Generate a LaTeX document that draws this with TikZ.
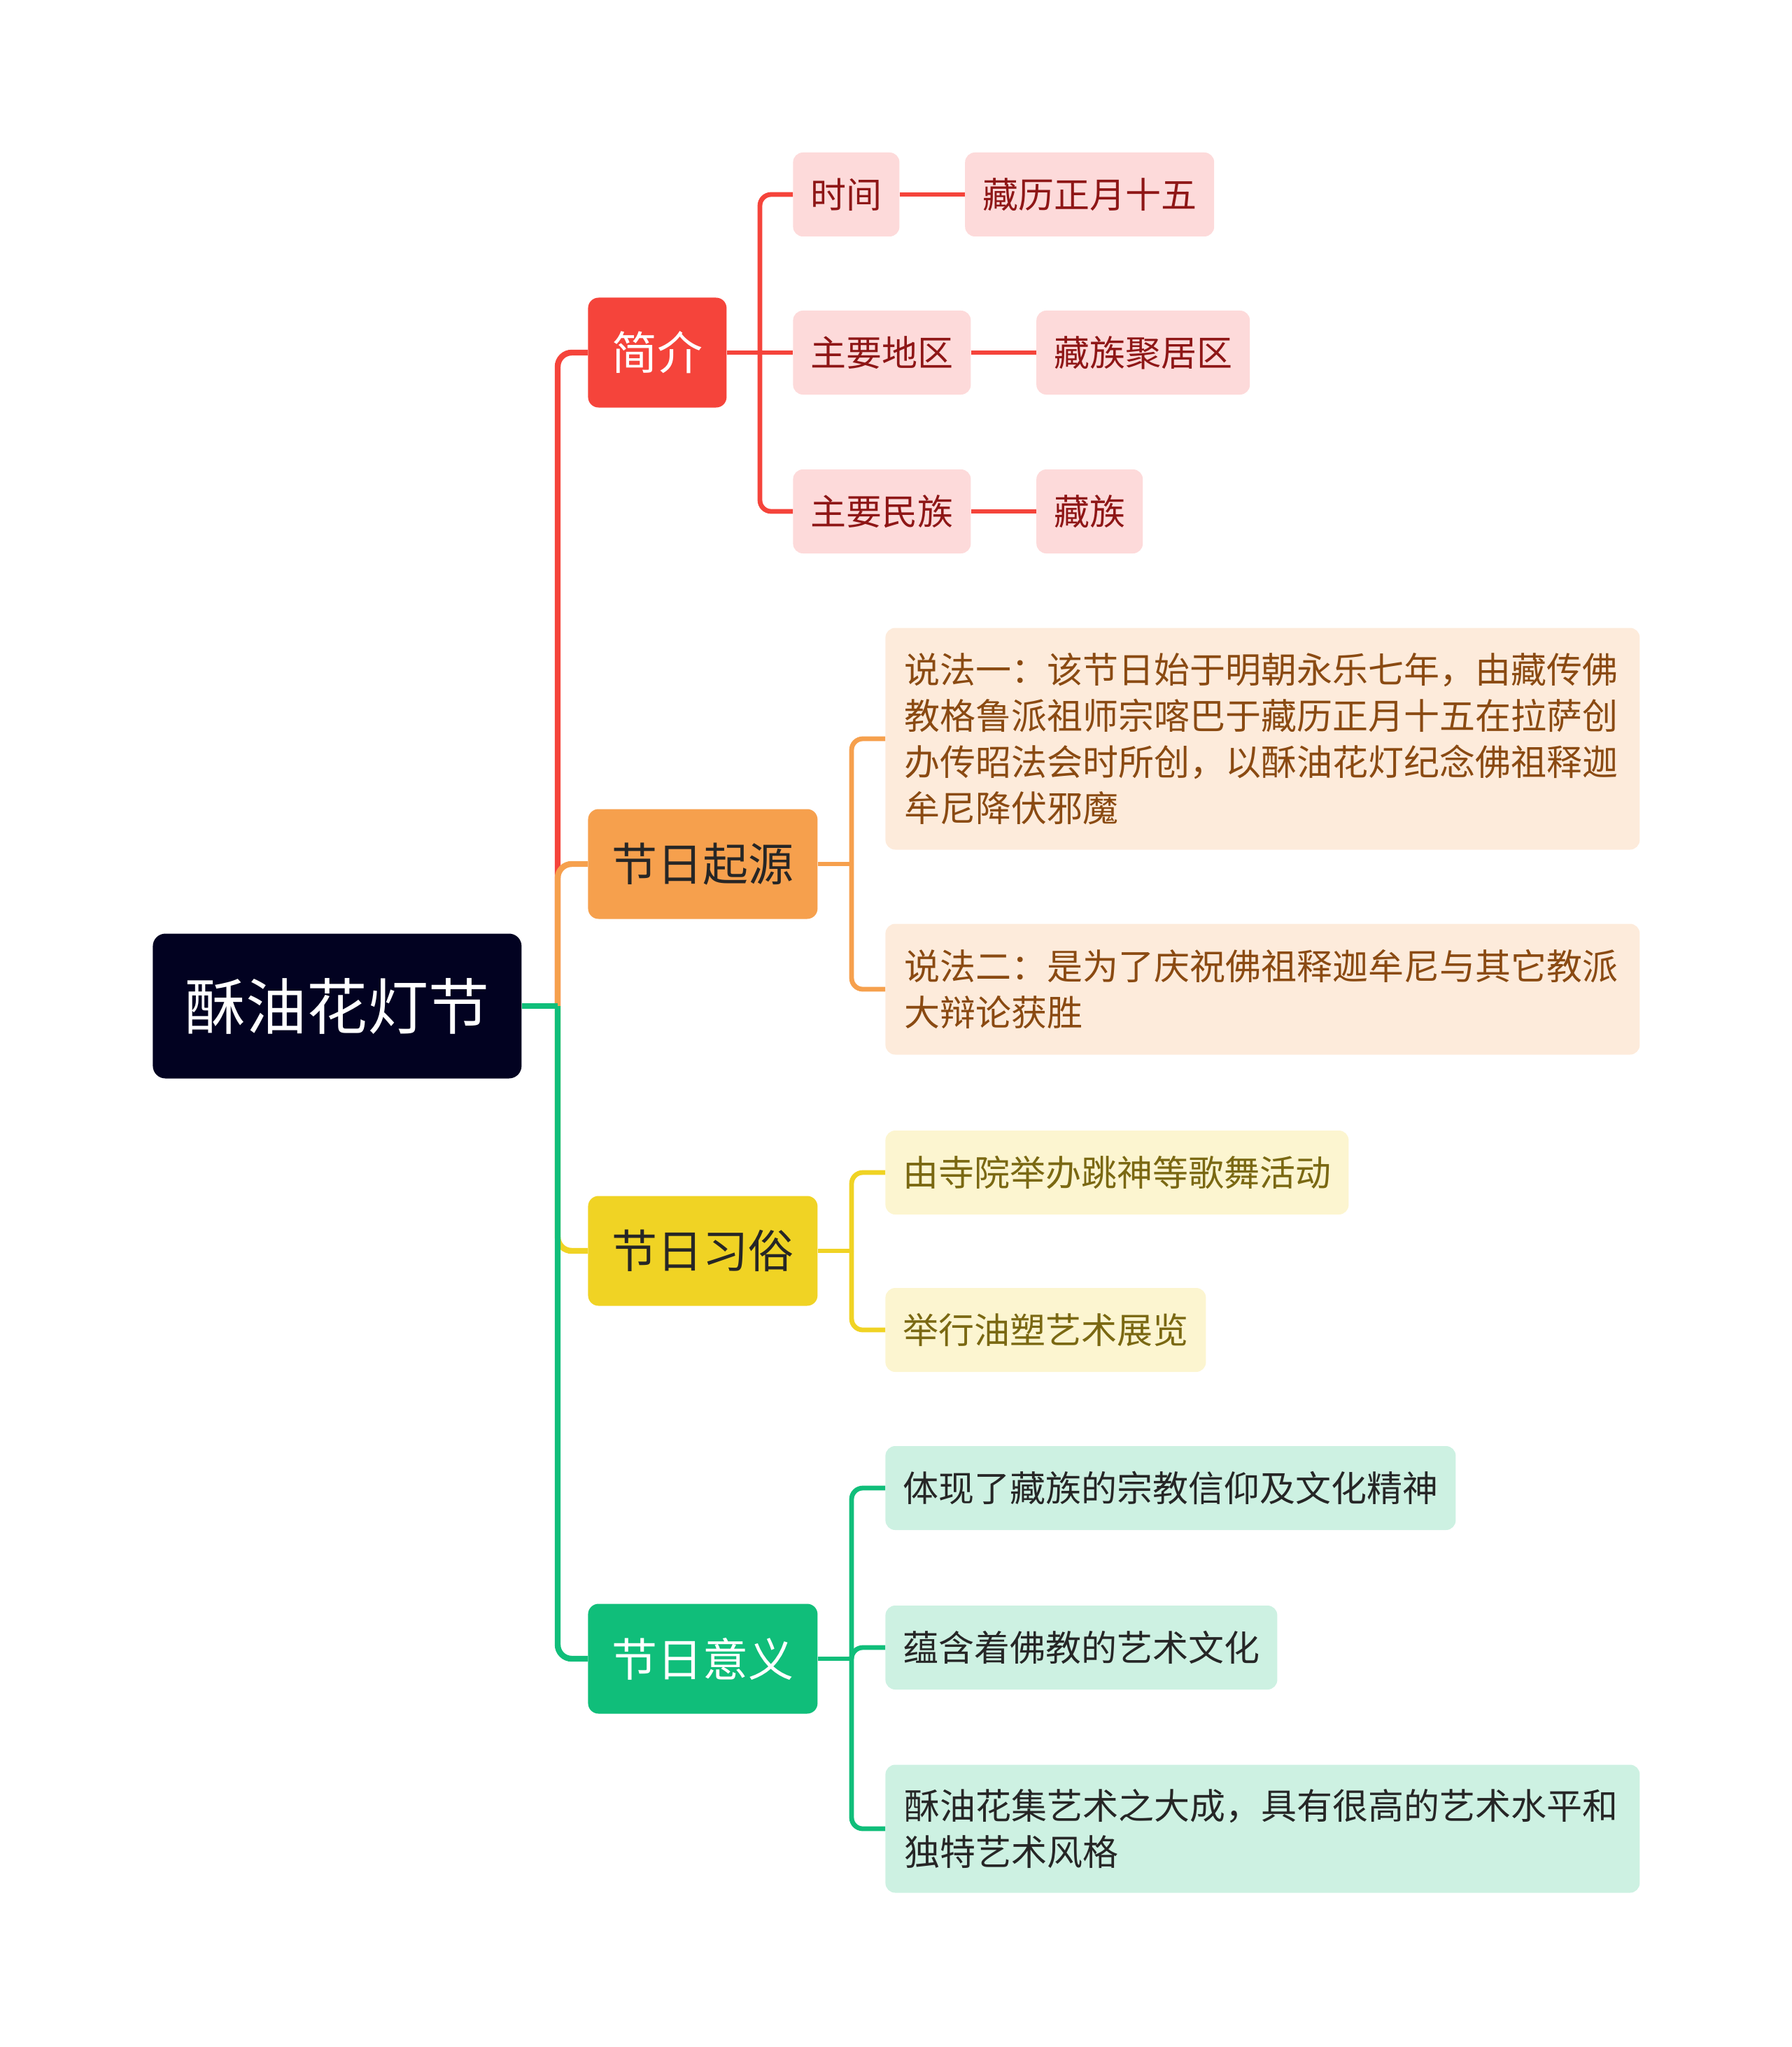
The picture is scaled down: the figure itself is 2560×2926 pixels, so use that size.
\documentclass[tikz,border=0pt]{standalone}
\usepackage{fontspec}
\setmainfont{Noto Sans CJK SC}
\usepackage{tikz}
\usetikzlibrary{positioning}

\definecolor{rootbg}{HTML}{020221}
\definecolor{redmain}{HTML}{F5443B}
\definecolor{redleaf}{HTML}{FDDADA}
\definecolor{redtext}{HTML}{8E1616}
\definecolor{orgmain}{HTML}{F6A04D}
\definecolor{orgleaf}{HTML}{FDEBDB}
\definecolor{orgtext}{HTML}{8A4A12}
\definecolor{yelmain}{HTML}{F0D324}
\definecolor{yelleaf}{HTML}{FCF5D0}
\definecolor{yeltext}{HTML}{7A6812}
\definecolor{grnmain}{HTML}{10BE7A}
\definecolor{grnleaf}{HTML}{CDF1E2}
\definecolor{darktext}{HTML}{262626}

\begin{document}
\begin{tikzpicture}[x=0.5pt, y=-0.5pt,
  rootnode/.style={rectangle, rounded corners=9pt, fill=rootbg, text=white,
                   font=\fontsize{43.5}{52}\selectfont, inner xsep=23pt,
                   minimum height=103.5pt, anchor=west},
  topic/.style={rectangle, rounded corners=7.5pt, font=\fontsize{32.5}{40}\selectfont,
                inner xsep=17pt, minimum height=78.5pt, anchor=west},
  leaf/.style={rectangle, rounded corners=7pt, font=\fontsize{25.5}{33}\selectfont,
               inner xsep=12.5pt, minimum height=60pt, anchor=west, align=left},
  wide/.style={text width=512pt, inner xsep=13.5pt},
  link/.style={line width=4.2pt, rounded corners=10pt},
  sublink/.style={line width=3.4pt, rounded corners=8pt}
]
\useasboundingbox (0,0) rectangle (2560,2926);

% root and main topics
\node[rootnode] (root) at (218,1438) {酥油花灯节};
\node[topic, fill=redmain, text=white]    (intro)   at (840,504)  {简介};
\node[topic, fill=orgmain, text=darktext] (origin)  at (840,1235) {节日起源};
\node[topic, fill=yelmain, text=darktext] (custom)  at (840,1788) {节日习俗};
\node[topic, fill=grnmain, text=white]    (meaning) at (840,2371) {节日意义};

% intro leaves
\node[leaf, fill=redleaf, text=redtext] (time)   at (1133,278) {时间};
\node[leaf, fill=redleaf, text=redtext, right=46.5pt of time]   (timev)   {藏历正月十五};
\node[leaf, fill=redleaf, text=redtext] (region) at (1133,504) {主要地区};
\node[leaf, fill=redleaf, text=redtext, right=46.5pt of region] (regionv) {藏族聚居区};
\node[leaf, fill=redleaf, text=redtext] (people) at (1133,731) {主要民族};
\node[leaf, fill=redleaf, text=redtext, right=46.5pt of people] (peoplev) {藏族};

% origin leaves
\node[leaf, wide, fill=orgleaf, text=orgtext, minimum height=158.5pt] (ori1) at (1265,1056)
  {说法一：该节日始于明朝永乐七年，由藏传佛\\教格鲁派祖师宗喀巴于藏历正月十五在拉萨创\\办传昭法会时所创，以酥油花灯纪念佛祖释迦\\牟尼降伏邪魔};
\node[leaf, wide, fill=orgleaf, text=orgtext, minimum height=93.5pt] (ori2) at (1265,1414)
  {说法二：是为了庆祝佛祖释迦牟尼与其它教派\\大辩论获胜};

% custom leaves
\node[leaf, fill=yelleaf, text=yeltext] (cus1) at (1265,1676) {由寺院举办跳神等歌舞活动};
\node[leaf, fill=yelleaf, text=yeltext] (cus2) at (1265,1901) {举行油塑艺术展览};

% meaning leaves
\node[leaf, fill=grnleaf, text=darktext] (mea1) at (1265,2127) {体现了藏族的宗教信仰及文化精神};
\node[leaf, fill=grnleaf, text=darktext] (mea2) at (1265,2355) {蕴含着佛教的艺术文化};
\node[leaf, wide, fill=grnleaf, text=darktext, minimum height=91.5pt] (mea3) at (1265,2614)
  {酥油花集艺术之大成，具有很高的艺术水平和\\独特艺术风格};

% trunk points
\coordinate (rootj)    at (797,1438);
\coordinate (introj)   at (1086,504);
\coordinate (originj)  at (1217,1235);
\coordinate (customj)  at (1217,1788);
\coordinate (meaningj) at (1217,2371);

% root branches
\draw[link, redmain] (rootj) |- (intro.west);
\draw[link, orgmain] (rootj) |- (origin.west);
\draw[link, yelmain] (rootj) |- (custom.west);
\draw[link, grnmain] (rootj) |- (meaning.west);
\draw[link, grnmain] (root.east) -- (rootj);

% topic branches
\draw[sublink, redmain] (introj) |- (time.west);
\draw[sublink, redmain] (introj) |- (people.west);
\draw[sublink, redmain] (intro.east) -- (region.west);
\draw[sublink, redmain] (time.east) -- (timev.west);
\draw[sublink, redmain] (region.east) -- (regionv.west);
\draw[sublink, redmain] (people.east) -- (peoplev.west);
\foreach \n in {ori1, ori2}
  \draw[sublink, orgmain] (originj) |- (\n.west);
\draw[sublink, orgmain] (origin.east) -- (originj);
\foreach \n in {cus1, cus2}
  \draw[sublink, yelmain] (customj) |- (\n.west);
\draw[sublink, yelmain] (custom.east) -- (customj);
\foreach \n in {mea1, mea2, mea3}
  \draw[sublink, grnmain] (meaningj) |- (\n.west);
\draw[sublink, grnmain] (meaning.east) -- (meaningj);
\end{tikzpicture}
\end{document}
